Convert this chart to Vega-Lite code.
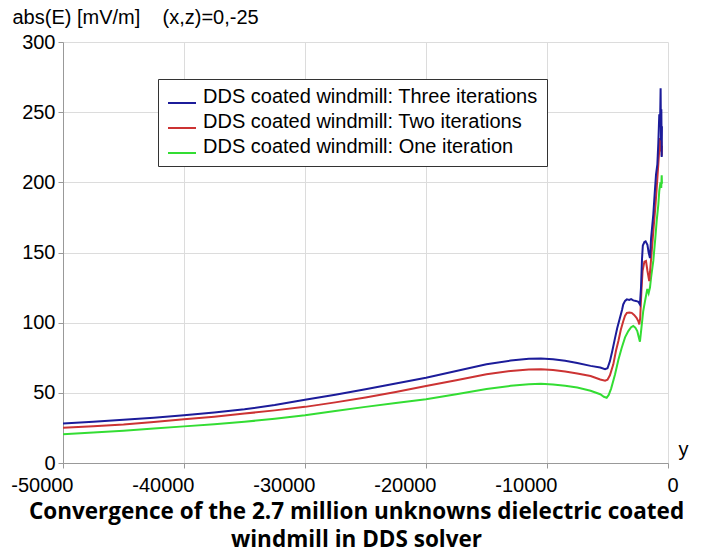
{
  "$schema": "https://vega.github.io/schema/vega-lite/v6.json",
  "width": 605,
  "height": 421,
  "autosize": "none",
  "padding": {"left": 63, "top": 42, "right": 35, "bottom": 93},
  "background": "white",
  "config": {"view": {"stroke": null}},
  "title": {
    "text": ["Convergence of the 2.7 million unknowns dielectric coated", "windmill in DDS solver"],
    "orient": "bottom",
    "anchor": "middle",
    "font": "Open Sans",
    "fontSize": 22.5,
    "fontWeight": "bold",
    "color": "#000000",
    "lineHeight": 28,
    "dx": -9,
    "offset": 6
  },
  "datasets": {
    "curves": [
      {"series": "DDS coated windmill: One iteration", "x": -50000, "v": 20.4},
      {"series": "DDS coated windmill: One iteration", "x": -47500, "v": 21.7},
      {"series": "DDS coated windmill: One iteration", "x": -45000, "v": 23},
      {"series": "DDS coated windmill: One iteration", "x": -42500, "v": 24.5},
      {"series": "DDS coated windmill: One iteration", "x": -40000, "v": 26.1},
      {"series": "DDS coated windmill: One iteration", "x": -37500, "v": 27.6},
      {"series": "DDS coated windmill: One iteration", "x": -35000, "v": 29.4},
      {"series": "DDS coated windmill: One iteration", "x": -32500, "v": 31.5},
      {"series": "DDS coated windmill: One iteration", "x": -30000, "v": 34},
      {"series": "DDS coated windmill: One iteration", "x": -27500, "v": 37},
      {"series": "DDS coated windmill: One iteration", "x": -25000, "v": 40},
      {"series": "DDS coated windmill: One iteration", "x": -22500, "v": 42.8},
      {"series": "DDS coated windmill: One iteration", "x": -20000, "v": 45.5},
      {"series": "DDS coated windmill: One iteration", "x": -17500, "v": 49},
      {"series": "DDS coated windmill: One iteration", "x": -15000, "v": 52.8},
      {"series": "DDS coated windmill: One iteration", "x": -13000, "v": 55},
      {"series": "DDS coated windmill: One iteration", "x": -11500, "v": 56.2},
      {"series": "DDS coated windmill: One iteration", "x": -10500, "v": 56.4},
      {"series": "DDS coated windmill: One iteration", "x": -9500, "v": 56},
      {"series": "DDS coated windmill: One iteration", "x": -8500, "v": 55},
      {"series": "DDS coated windmill: One iteration", "x": -7500, "v": 53.8},
      {"series": "DDS coated windmill: One iteration", "x": -6400, "v": 51.5},
      {"series": "DDS coated windmill: One iteration", "x": -5600, "v": 49},
      {"series": "DDS coated windmill: One iteration", "x": -5300, "v": 47.2},
      {"series": "DDS coated windmill: One iteration", "x": -5070, "v": 46.5},
      {"series": "DDS coated windmill: One iteration", "x": -4900, "v": 48.5},
      {"series": "DDS coated windmill: One iteration", "x": -4700, "v": 53},
      {"series": "DDS coated windmill: One iteration", "x": -4380, "v": 63},
      {"series": "DDS coated windmill: One iteration", "x": -4100, "v": 73.5},
      {"series": "DDS coated windmill: One iteration", "x": -3830, "v": 82},
      {"series": "DDS coated windmill: One iteration", "x": -3550, "v": 89.5},
      {"series": "DDS coated windmill: One iteration", "x": -3280, "v": 94},
      {"series": "DDS coated windmill: One iteration", "x": -3050, "v": 96.8},
      {"series": "DDS coated windmill: One iteration", "x": -2870, "v": 97.6},
      {"series": "DDS coated windmill: One iteration", "x": -2700, "v": 96.5},
      {"series": "DDS coated windmill: One iteration", "x": -2540, "v": 94},
      {"series": "DDS coated windmill: One iteration", "x": -2400, "v": 89},
      {"series": "DDS coated windmill: One iteration", "x": -2320, "v": 86.5},
      {"series": "DDS coated windmill: One iteration", "x": -2200, "v": 96},
      {"series": "DDS coated windmill: One iteration", "x": -2050, "v": 108},
      {"series": "DDS coated windmill: One iteration", "x": -1900, "v": 115.4},
      {"series": "DDS coated windmill: One iteration", "x": -1710, "v": 124},
      {"series": "DDS coated windmill: One iteration", "x": -1600, "v": 121},
      {"series": "DDS coated windmill: One iteration", "x": -1490, "v": 125},
      {"series": "DDS coated windmill: One iteration", "x": -1400, "v": 132},
      {"series": "DDS coated windmill: One iteration", "x": -1215, "v": 144},
      {"series": "DDS coated windmill: One iteration", "x": -1050, "v": 160},
      {"series": "DDS coated windmill: One iteration", "x": -935, "v": 172.5},
      {"series": "DDS coated windmill: One iteration", "x": -800, "v": 184},
      {"series": "DDS coated windmill: One iteration", "x": -720, "v": 194},
      {"series": "DDS coated windmill: One iteration", "x": -620, "v": 200},
      {"series": "DDS coated windmill: One iteration", "x": -560, "v": 196},
      {"series": "DDS coated windmill: One iteration", "x": -520, "v": 205},
      {"series": "DDS coated windmill: One iteration", "x": -500, "v": 199},

      {"series": "DDS coated windmill: Two iterations", "x": -50000, "v": 25.1},
      {"series": "DDS coated windmill: Two iterations", "x": -47500, "v": 26.2},
      {"series": "DDS coated windmill: Two iterations", "x": -45000, "v": 27.5},
      {"series": "DDS coated windmill: Two iterations", "x": -42500, "v": 29.3},
      {"series": "DDS coated windmill: Two iterations", "x": -40000, "v": 31.2},
      {"series": "DDS coated windmill: Two iterations", "x": -37500, "v": 33},
      {"series": "DDS coated windmill: Two iterations", "x": -35000, "v": 35.2},
      {"series": "DDS coated windmill: Two iterations", "x": -32500, "v": 37.5},
      {"series": "DDS coated windmill: Two iterations", "x": -30000, "v": 40},
      {"series": "DDS coated windmill: Two iterations", "x": -27500, "v": 43.2},
      {"series": "DDS coated windmill: Two iterations", "x": -25000, "v": 46.7},
      {"series": "DDS coated windmill: Two iterations", "x": -22500, "v": 50.6},
      {"series": "DDS coated windmill: Two iterations", "x": -20000, "v": 54.8},
      {"series": "DDS coated windmill: Two iterations", "x": -17500, "v": 59},
      {"series": "DDS coated windmill: Two iterations", "x": -15000, "v": 63.2},
      {"series": "DDS coated windmill: Two iterations", "x": -13000, "v": 65.6},
      {"series": "DDS coated windmill: Two iterations", "x": -11500, "v": 66.7},
      {"series": "DDS coated windmill: Two iterations", "x": -10500, "v": 66.8},
      {"series": "DDS coated windmill: Two iterations", "x": -9500, "v": 66.3},
      {"series": "DDS coated windmill: Two iterations", "x": -8500, "v": 65.2},
      {"series": "DDS coated windmill: Two iterations", "x": -7500, "v": 63.8},
      {"series": "DDS coated windmill: Two iterations", "x": -6400, "v": 62},
      {"series": "DDS coated windmill: Two iterations", "x": -5600, "v": 59.5},
      {"series": "DDS coated windmill: Two iterations", "x": -5200, "v": 58.7},
      {"series": "DDS coated windmill: Two iterations", "x": -5000, "v": 59.3},
      {"series": "DDS coated windmill: Two iterations", "x": -4800, "v": 62.5},
      {"series": "DDS coated windmill: Two iterations", "x": -4520, "v": 70.3},
      {"series": "DDS coated windmill: Two iterations", "x": -4300, "v": 80},
      {"series": "DDS coated windmill: Two iterations", "x": -4100, "v": 87},
      {"series": "DDS coated windmill: Two iterations", "x": -3900, "v": 95},
      {"series": "DDS coated windmill: Two iterations", "x": -3700, "v": 101},
      {"series": "DDS coated windmill: Two iterations", "x": -3550, "v": 105},
      {"series": "DDS coated windmill: Two iterations", "x": -3400, "v": 107},
      {"series": "DDS coated windmill: Two iterations", "x": -3200, "v": 107.2},
      {"series": "DDS coated windmill: Two iterations", "x": -3000, "v": 107},
      {"series": "DDS coated windmill: Two iterations", "x": -2800, "v": 105.5},
      {"series": "DDS coated windmill: Two iterations", "x": -2600, "v": 103.5},
      {"series": "DDS coated windmill: Two iterations", "x": -2450, "v": 101},
      {"series": "DDS coated windmill: Two iterations", "x": -2370, "v": 98.8},
      {"series": "DDS coated windmill: Two iterations", "x": -2300, "v": 103},
      {"series": "DDS coated windmill: Two iterations", "x": -2200, "v": 122},
      {"series": "DDS coated windmill: Two iterations", "x": -2100, "v": 137},
      {"series": "DDS coated windmill: Two iterations", "x": -1950, "v": 143.5},
      {"series": "DDS coated windmill: Two iterations", "x": -1820, "v": 144},
      {"series": "DDS coated windmill: Two iterations", "x": -1700, "v": 137},
      {"series": "DDS coated windmill: Two iterations", "x": -1550, "v": 129.6},
      {"series": "DDS coated windmill: Two iterations", "x": -1400, "v": 145},
      {"series": "DDS coated windmill: Two iterations", "x": -1215, "v": 165},
      {"series": "DDS coated windmill: Two iterations", "x": -1050, "v": 182},
      {"series": "DDS coated windmill: Two iterations", "x": -935, "v": 196},
      {"series": "DDS coated windmill: Two iterations", "x": -800, "v": 213},
      {"series": "DDS coated windmill: Two iterations", "x": -660, "v": 231.5},
      {"series": "DDS coated windmill: Two iterations", "x": -600, "v": 222},
      {"series": "DDS coated windmill: Two iterations", "x": -560, "v": 229},
      {"series": "DDS coated windmill: Two iterations", "x": -520, "v": 219},
      {"series": "DDS coated windmill: Two iterations", "x": -500, "v": 226},

      {"series": "DDS coated windmill: Three iterations", "x": -50000, "v": 28.2},
      {"series": "DDS coated windmill: Three iterations", "x": -47500, "v": 29.4},
      {"series": "DDS coated windmill: Three iterations", "x": -45000, "v": 30.8},
      {"series": "DDS coated windmill: Three iterations", "x": -42500, "v": 32.3},
      {"series": "DDS coated windmill: Three iterations", "x": -40000, "v": 34.1},
      {"series": "DDS coated windmill: Three iterations", "x": -37500, "v": 36},
      {"series": "DDS coated windmill: Three iterations", "x": -35000, "v": 38.3},
      {"series": "DDS coated windmill: Three iterations", "x": -32500, "v": 41.3},
      {"series": "DDS coated windmill: Three iterations", "x": -30000, "v": 45},
      {"series": "DDS coated windmill: Three iterations", "x": -27500, "v": 48.6},
      {"series": "DDS coated windmill: Three iterations", "x": -25000, "v": 52.5},
      {"series": "DDS coated windmill: Three iterations", "x": -22500, "v": 56.6},
      {"series": "DDS coated windmill: Three iterations", "x": -20000, "v": 60.8},
      {"series": "DDS coated windmill: Three iterations", "x": -17500, "v": 65.5},
      {"series": "DDS coated windmill: Three iterations", "x": -15000, "v": 70.3},
      {"series": "DDS coated windmill: Three iterations", "x": -13000, "v": 73},
      {"series": "DDS coated windmill: Three iterations", "x": -11500, "v": 74.3},
      {"series": "DDS coated windmill: Three iterations", "x": -10500, "v": 74.5},
      {"series": "DDS coated windmill: Three iterations", "x": -9500, "v": 74},
      {"series": "DDS coated windmill: Three iterations", "x": -8500, "v": 72.8},
      {"series": "DDS coated windmill: Three iterations", "x": -7500, "v": 71.3},
      {"series": "DDS coated windmill: Three iterations", "x": -6400, "v": 69.2},
      {"series": "DDS coated windmill: Three iterations", "x": -5600, "v": 68},
      {"series": "DDS coated windmill: Three iterations", "x": -5200, "v": 66.8},
      {"series": "DDS coated windmill: Three iterations", "x": -5000, "v": 67.5},
      {"series": "DDS coated windmill: Three iterations", "x": -4800, "v": 72.6},
      {"series": "DDS coated windmill: Three iterations", "x": -4600, "v": 80},
      {"series": "DDS coated windmill: Three iterations", "x": -4380, "v": 89},
      {"series": "DDS coated windmill: Three iterations", "x": -4200, "v": 96},
      {"series": "DDS coated windmill: Three iterations", "x": -3970, "v": 103.5},
      {"series": "DDS coated windmill: Three iterations", "x": -3800, "v": 109},
      {"series": "DDS coated windmill: Three iterations", "x": -3700, "v": 113},
      {"series": "DDS coated windmill: Three iterations", "x": -3550, "v": 115.5},
      {"series": "DDS coated windmill: Three iterations", "x": -3400, "v": 116.6},
      {"series": "DDS coated windmill: Three iterations", "x": -3200, "v": 116.2},
      {"series": "DDS coated windmill: Three iterations", "x": -3050, "v": 116.8},
      {"series": "DDS coated windmill: Three iterations", "x": -2870, "v": 115.9},
      {"series": "DDS coated windmill: Three iterations", "x": -2650, "v": 115.5},
      {"series": "DDS coated windmill: Three iterations", "x": -2450, "v": 114.9},
      {"series": "DDS coated windmill: Three iterations", "x": -2320, "v": 113},
      {"series": "DDS coated windmill: Three iterations", "x": -2230, "v": 125},
      {"series": "DDS coated windmill: Three iterations", "x": -2150, "v": 145},
      {"series": "DDS coated windmill: Three iterations", "x": -2080, "v": 155},
      {"series": "DDS coated windmill: Three iterations", "x": -1950, "v": 157.5},
      {"series": "DDS coated windmill: Three iterations", "x": -1850, "v": 158},
      {"series": "DDS coated windmill: Three iterations", "x": -1700, "v": 155.5},
      {"series": "DDS coated windmill: Three iterations", "x": -1600, "v": 150},
      {"series": "DDS coated windmill: Three iterations", "x": -1490, "v": 146},
      {"series": "DDS coated windmill: Three iterations", "x": -1400, "v": 160},
      {"series": "DDS coated windmill: Three iterations", "x": -1215, "v": 177},
      {"series": "DDS coated windmill: Three iterations", "x": -1100, "v": 192},
      {"series": "DDS coated windmill: Three iterations", "x": -990, "v": 205.5},
      {"series": "DDS coated windmill: Three iterations", "x": -880, "v": 212.8},
      {"series": "DDS coated windmill: Three iterations", "x": -800, "v": 228},
      {"series": "DDS coated windmill: Three iterations", "x": -720, "v": 248.5},
      {"series": "DDS coated windmill: Three iterations", "x": -660, "v": 240},
      {"series": "DDS coated windmill: Three iterations", "x": -610, "v": 267},
      {"series": "DDS coated windmill: Three iterations", "x": -580, "v": 230},
      {"series": "DDS coated windmill: Three iterations", "x": -550, "v": 252},
      {"series": "DDS coated windmill: Three iterations", "x": -520, "v": 218},
      {"series": "DDS coated windmill: Three iterations", "x": -500, "v": 240}
    ]
  },
  "data": {"name": "curves"},
  "mark": {"type": "line", "strokeWidth": 2, "clip": true},
  "encoding": {
    "x": {
      "field": "x",
      "type": "quantitative",
      "scale": {"domain": [-50000, 0], "nice": false, "zero": false},
      "axis": {
        "values": [-50000, -40000, -30000, -20000, -10000, 0],
        "labelExpr": "toString(datum.value)",
        "title": "y",
        "titleX": 620,
        "titleY": -8,
        "titleAlign": "center",
        "titleBaseline": "alphabetic",
        "titleFont": "Liberation Sans",
        "titleFontSize": 20,
        "titleFontWeight": "normal",
        "titleColor": "#000000",
        "labelFont": "Liberation Sans",
        "labelFontSize": 20,
        "labelColor": "#000000",
        "labelAlign": "right",
        "labelOffset": 10,
        "labelPadding": 7,
        "labelFlush": false,
        "labelOverlap": false,
        "tickSize": 5,
        "tickColor": "#999999",
        "domainColor": "#999999",
        "grid": true,
        "gridColor": "#dcdcdc"
      }
    },
    "y": {
      "field": "v",
      "type": "quantitative",
      "scale": {"domain": [0, 300], "nice": false},
      "axis": {
        "values": [0, 50, 100, 150, 200, 250, 300],
        "title": "abs(E) [mV/m]\u00a0\u00a0\u00a0 (x,z)=0,-25",
        "titleAngle": 0,
        "titleX": -51,
        "titleY": -19,
        "titleAlign": "left",
        "titleBaseline": "alphabetic",
        "titleFont": "Liberation Sans",
        "titleFontSize": 20,
        "titleFontWeight": "normal",
        "titleColor": "#000000",
        "labelFont": "Liberation Sans",
        "labelFontSize": 20,
        "labelColor": "#000000",
        "labelPadding": 3,
        "labelFlush": false,
        "tickSize": 5,
        "tickColor": "#999999",
        "domainColor": "#999999",
        "grid": true,
        "gridColor": "#dcdcdc"
      }
    },
    "color": {
      "field": "series",
      "type": "nominal",
      "scale": {
        "domain": ["DDS coated windmill: Three iterations", "DDS coated windmill: Two iterations", "DDS coated windmill: One iteration"],
        "range": ["#1c1c9a", "#cc3333", "#33dd33"]
      },
      "legend": {
        "orient": "none",
        "legendX": 95,
        "legendY": 37,
        "title": null,
        "strokeColor": "#333333",
        "fillColor": "#ffffff",
        "padding": 9,
        "rowPadding": 5,
        "symbolType": "stroke",
        "symbolSize": 784,
        "symbolStrokeWidth": 2,
        "labelFont": "Liberation Sans",
        "labelFontSize": 20,
        "labelColor": "#000000",
        "labelBaseline": "alphabetic",
        "labelOffset": 6,
        "labelLimit": 400
      }
    }
  }
}
